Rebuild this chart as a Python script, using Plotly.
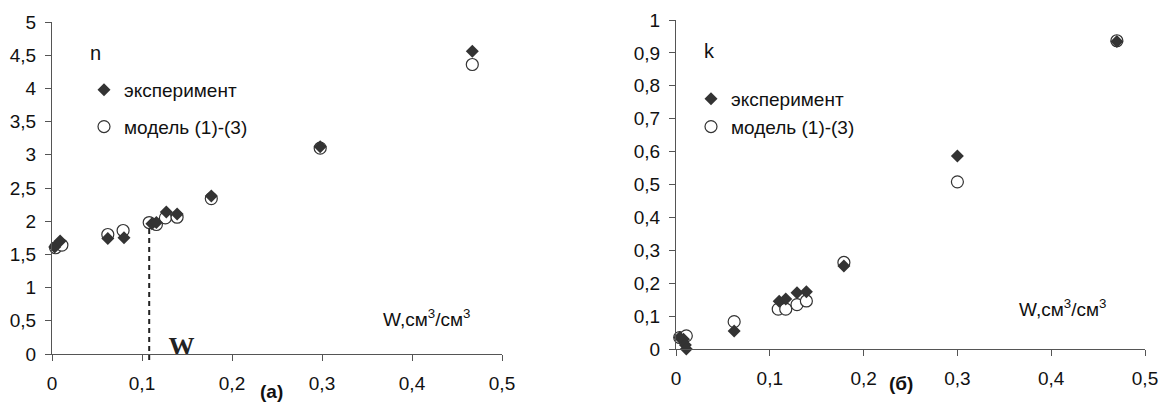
import plotly.graph_objects as go

W, H = 1160, 403

# ---- data: left chart (n) ----
n_exp_w = [0.003, 0.009, 0.062, 0.080, 0.111, 0.116, 0.127, 0.139, 0.177, 0.298, 0.467]
n_exp   = [1.61, 1.70, 1.74, 1.75, 1.96, 1.98, 2.14, 2.11, 2.38, 3.12, 4.56]
n_mod_w = [0.004, 0.011, 0.062, 0.079, 0.108, 0.116, 0.126, 0.139, 0.177, 0.298, 0.467]
n_mod   = [1.60, 1.64, 1.80, 1.86, 1.98, 1.95, 2.05, 2.06, 2.34, 3.10, 4.36]

# ---- data: right chart (k) ----
k_exp_w = [0.004, 0.008, 0.010, 0.011, 0.062, 0.110, 0.117, 0.129, 0.139, 0.179, 0.300, 0.470]
k_exp   = [0.035, 0.030, 0.012, 0.000, 0.055, 0.145, 0.152, 0.171, 0.174, 0.252, 0.587, 0.935]
k_mod_w = [0.004, 0.011, 0.062, 0.109, 0.117, 0.129, 0.139, 0.179, 0.300, 0.470]
k_mod   = [0.035, 0.040, 0.083, 0.121, 0.121, 0.135, 0.146, 0.263, 0.508, 0.937]

legend_names = ["эксперимент", "модель (1)-(3)"]
x_ticks = [0, 0.1, 0.2, 0.3, 0.4, 0.5]
n_range = [0, 5]
w_threshold = 0.108
w_threshold_n = 1.94

def px(x):
    return x / W

def py(y):
    return 1 - y / H

AX = "#555555"
MK = "#333333"
FONT = "Liberation Sans, Arial, sans-serif"

fig = go.Figure()

def add_pair(xe, ye, xm, ym, xa, ya, leg):
    fig.add_trace(go.Scatter(
        x=xm, y=ym, mode="markers", name=legend_names[1], xaxis=xa, yaxis=ya,
        legend=leg, legendrank=2, legendgroup=leg + "m",
        marker=dict(symbol="circle", size=12, color="white",
                    line=dict(color=MK, width=1.2)),
        cliponaxis=False))
    fig.add_trace(go.Scatter(
        x=xe, y=ye, mode="markers", name=legend_names[0], xaxis=xa, yaxis=ya,
        legend=leg, legendrank=1, legendgroup=leg + "e",
        marker=dict(symbol="diamond", size=10, color=MK,
                    line=dict(color=MK, width=0)),
        cliponaxis=False))

add_pair(n_exp_w, n_exp, n_mod_w, n_mod, "x", "y", "legend")
add_pair(k_exp_w, k_exp, k_mod_w, k_mod, "x2", "y2", "legend2")

# bold "W" label near the threshold line, clipped by the x axis
fig.add_trace(go.Scatter(
    x=[0.144], y=[0.09], mode="text", text=["<b>W</b>"], textposition="middle center",
    textfont=dict(family="Liberation Serif, Times New Roman, serif", size=26, color="#222"),
    xaxis="x", yaxis="y", showlegend=False, cliponaxis=True, hoverinfo="skip"))

TICKF = dict(family=FONT, size=19, color="#111")
axis_common = dict(
    showgrid=False, zeroline=False, showline=True, linecolor=AX, linewidth=1,
    ticks="outside", ticklen=6, tickcolor=AX, tickwidth=1, automargin=False,
)

fig.update_layout(
    width=W, height=H, margin=dict(l=0, r=0, t=0, b=0, pad=0, autoexpand=False),
    paper_bgcolor="white", plot_bgcolor="white",
    separators=", ",
    font=dict(family=FONT, color="#111"),
    xaxis=dict(domain=[px(52), px(502)], range=[0, 0.5], tickvals=x_ticks,
               anchor="y", ticklabelstandoff=6, tickfont=TICKF, **axis_common),
    yaxis=dict(domain=[py(354), py(22)], range=n_range, dtick=0.5, anchor="x",
               ticklabelstandoff=5, tickfont=TICKF, **axis_common),
    xaxis2=dict(domain=[px(676), px(1145)], range=[0, 0.5], tickvals=x_ticks,
                anchor="y2", ticklabelstandoff=6, tickfont=TICKF, **axis_common),
    yaxis2=dict(domain=[py(349), py(20)], range=[0, 1], dtick=0.1, anchor="x2",
                ticklabelstandoff=5, tickfont=TICKF, **axis_common),
    legend=dict(x=px(84), y=py(71), xanchor="left", yanchor="top",
                bgcolor="rgba(0,0,0,0)", borderwidth=0, itemwidth=30,
                traceorder="grouped", tracegroupgap=9,
                font=dict(family=FONT, size=19, color="#111")),
    legend2=dict(x=px(691), y=py(80), xanchor="left", yanchor="top",
                 bgcolor="rgba(0,0,0,0)", borderwidth=0, itemwidth=30,
                 traceorder="grouped", tracegroupgap=0,
                 font=dict(family=FONT, size=19, color="#111")),
    showlegend=True,
)

# dashed threshold line (slightly crossing the x axis, as in the original)
fig.add_shape(type="line", xref="x", yref="y domain", x0=w_threshold, x1=w_threshold,
              y0=-0.018, y1=(w_threshold_n - n_range[0]) / (n_range[1] - n_range[0]),
              line=dict(color="#222", width=2, dash="5px,4px"), layer="above")

ann = []
def txt(x, y, s, size=18, bold=False, xanchor="center", yanchor="middle"):
    ann.append(dict(xref="paper", yref="paper", x=px(x), y=py(y), text=(f"<b>{s}</b>" if bold else s),
                    showarrow=False, xanchor=xanchor, yanchor=yanchor,
                    font=dict(family=FONT, size=size, color="#111")))

txt(95, 53, "n", 20)
txt(710, 51, "k", 20)
txt(381, 318, "W,см<sup>3</sup>/см<sup>3</sup>", 19, xanchor="left")
txt(1017, 308, "W,см<sup>3</sup>/см<sup>3</sup>", 19, xanchor="left")
txt(271, 391, "(a)", 19, bold=True)
txt(901, 383, "(б)", 19, bold=True)
fig.update_layout(annotations=ann)

fig.write_html("out.html", post_script="document.body.style.margin='0';document.body.style.overflow='hidden';")
